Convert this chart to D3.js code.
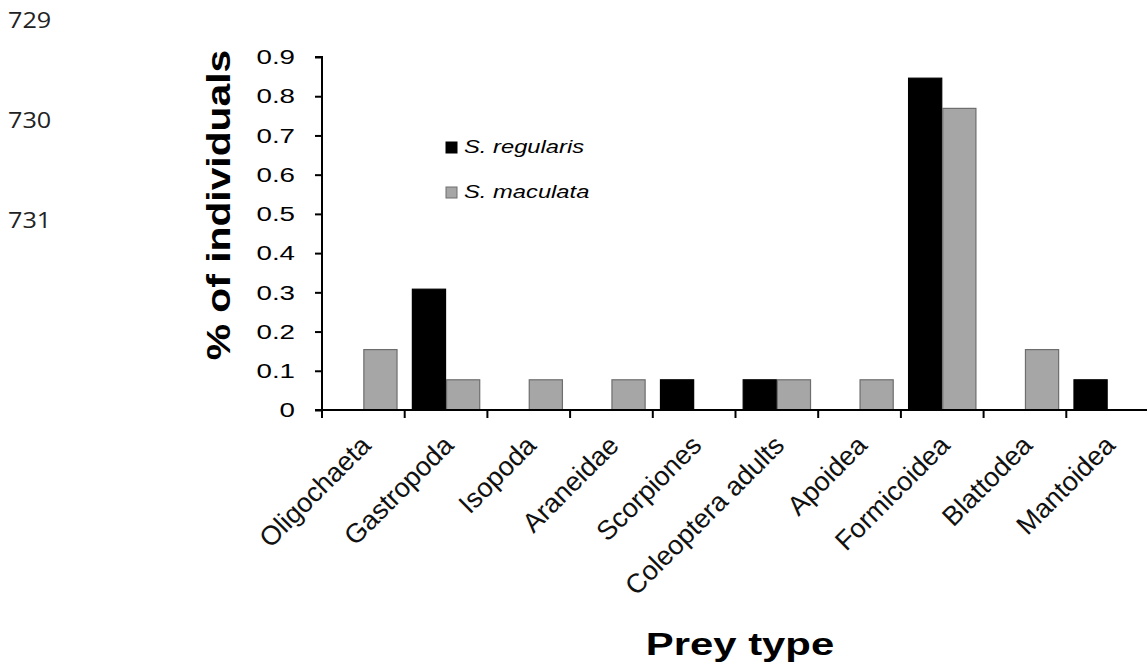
<!DOCTYPE html>
<html><head><meta charset="utf-8">
<script src="https://cdn.jsdelivr.net/npm/d3@7"></script>
<style>body{margin:0;background:#fff;} svg{display:block;}</style>
</head><body>
<svg id="c" width="1147" height="672"></svg>
<script>
const categories = ["Oligochaeta","Gastropoda","Isopoda","Araneidae","Scorpiones","Coleoptera adults","Apoidea","Formicoidea","Blattodea","Mantoidea"];
const regularis = [0, 0.308, 0, 0, 0.077, 0.077, 0, 0.846, 0, 0.077];
const maculata  = [0.154, 0.077, 0.077, 0.077, 0, 0.077, 0.077, 0.769, 0.154, 0];
const seriesNames = ["S. regularis","S. maculata"];
const yTicks = [0,0.1,0.2,0.3,0.4,0.5,0.6,0.7,0.8,0.9];
const lineNumbers = ["729","730","731"];

const svg = d3.select("#c");
const pLeft = 322, pRight = 1149, pTop = 57, pBottom = 410;
const SX = 1.32; // horizontal stretch of the source image text

const x = d3.scaleBand().domain(categories).range([pLeft, pRight]).paddingInner(0).paddingOuter(0);
const sub = d3.scaleBand().domain(seriesNames).range([0, x.bandwidth()]).paddingInner(0).paddingOuter(0.21);
const y = d3.scaleLinear().domain([0, 0.9]).range([pBottom, pTop]);
const color = {"S. regularis":"#000000","S. maculata":"#a6a6a6"};
const stroke = {"S. regularis":"#000000","S. maculata":"#6e6e6e"};

// line numbers
svg.selectAll("text.ln").data(lineNumbers).enter().append("text")
  .attr("class","ln").attr("transform",(d,i)=>`translate(8,${28+i*100}) scale(1.2,1)`)
  .attr("font-family","Open Sans, Liberation Sans, sans-serif").attr("font-size",21).attr("fill","#222")
  .text(d=>d);

// bars
const rows = categories.map((c,i)=>[{c,s:"S. regularis",v:regularis[i]},{c,s:"S. maculata",v:maculata[i]}]).flat().filter(d=>d.v>0);
svg.append("g").selectAll("rect").data(rows).enter().append("rect")
  .attr("x",d=>x(d.c)+sub(d.s)+0.5)
  .attr("y",d=>y(d.v))
  .attr("width",sub.bandwidth()-1)
  .attr("height",d=>y(0)-y(d.v))
  .attr("fill",d=>color[d.s]).attr("stroke",d=>stroke[d.s]).attr("stroke-width",1.2);

// y axis
const yAxis = svg.append("g").attr("transform",`translate(${pLeft},0)`)
  .call(d3.axisLeft(y).tickValues(yTicks).tickFormat(d=>d===0?"0":d3.format(".1f")(d)).tickSize(7).tickPadding(0));
yAxis.select(".domain").attr("stroke","#000").attr("stroke-width",2).attr("d",`M-7,${pTop}H0V${pBottom}`);
yAxis.selectAll(".tick line").attr("stroke","#000").attr("stroke-width",2);
yAxis.selectAll(".tick text").attr("x",null)
  .attr("transform",`translate(-27,0) scale(${SX},1)`)
  .attr("font-family","Liberation Sans, Arial, sans-serif").attr("font-size",21).attr("fill","#000");

// x axis
const xAxis = svg.append("g").attr("transform",`translate(0,${pBottom})`);
xAxis.append("line").attr("x1",pLeft-7).attr("x2",pRight).attr("y1",0).attr("y2",0).attr("stroke","#000").attr("stroke-width",2);
xAxis.selectAll("line.t").data(categories.map(c=>x(c))).enter().append("line")
  .attr("class","t").attr("x1",d=>d).attr("x2",d=>d).attr("y1",0).attr("y2",8)
  .attr("stroke","#000").attr("stroke-width",2);
xAxis.selectAll("text.xl").data(categories).enter().append("text")
  .attr("class","xl")
  .attr("transform",d=>`translate(${x(d)+x.bandwidth()/2+9},37) rotate(-45)`)
  .attr("text-anchor","end")
  .attr("font-family","Liberation Sans, Arial, sans-serif").attr("font-size",27).attr("fill","#111")
  .text(d=>d);

// axis titles
svg.append("text").attr("transform",`translate(230,205) rotate(-90) scale(1.2,1)`).attr("text-anchor","middle")
  .attr("font-family","Liberation Sans, Arial, sans-serif").attr("font-weight","bold").attr("font-size",34).attr("fill","#000")
  .text("% of individuals");
svg.append("text").attr("transform",`translate(740,655) scale(1.35,1)`).attr("text-anchor","middle")
  .attr("font-family","Liberation Sans, Arial, sans-serif").attr("font-weight","bold").attr("font-size",31).attr("fill","#000")
  .text("Prey type");

// legend
const lg = svg.append("g");
lg.selectAll("rect").data(seriesNames).enter().append("rect")
  .attr("x",446).attr("y",(d,i)=>142+i*45).attr("width",11).attr("height",11)
  .attr("fill",d=>color[d]).attr("stroke",d=>stroke[d]).attr("stroke-width",1);
lg.selectAll("text").data(seriesNames).enter().append("text")
  .attr("transform",(d,i)=>`translate(464,${153+i*45}) scale(${SX},1)`)
  .attr("font-family","Liberation Sans, Arial, sans-serif").attr("font-style","italic").attr("font-size",18).attr("fill","#000")
  .text(d=>d);
</script>
</body></html>
